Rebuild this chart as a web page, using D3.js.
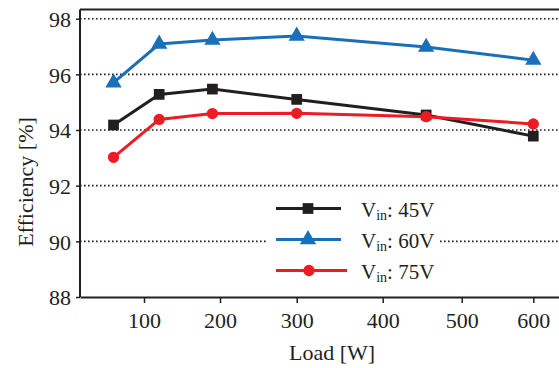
<!DOCTYPE html>
<html>
<head>
<meta charset="utf-8">
<script src="https://cdn.jsdelivr.net/npm/d3@7"></script>
<style>
body{margin:0;background:#fff;}
text{font-family:"Liberation Serif","Times New Roman",serif;fill:#231f20;}
</style>
</head>
<body>
<script>
// data
var loads = [60, 120, 190, 300, 455, 600];
var eff45 = [94.18, 95.28, 95.47, 95.10, 94.54, 93.78];
var eff60 = [95.70, 97.09, 97.23, 97.38, 96.98, 96.51];
var eff75 = [93.02, 94.38, 94.59, 94.60, 94.48, 94.22];
var xTicks = [100, 200, 300, 400, 500, 600];
var yTicks = [88, 90, 92, 94, 96, 98];
var seriesNames = ["45V", "60V", "75V"];

var W = 559, H = 368;
var svg = d3.select("body").append("svg").attr("width", W).attr("height", H);

// the original axis is not quite evenly spaced, so follow its tick marks
var x = d3.scaleLinear()
  .domain([16, 100, 200, 300, 400, 500, 600, 636])
  .range([80, 144, 220, 296.7, 382.7, 461.7, 533.3, 559]);
var y = d3.scaleLinear().domain([88, 98.33]).range([297, 9.5]);

// dotted grid
svg.append("g").selectAll("line").data(yTicks.slice(1)).enter().append("line")
  .attr("x1", 80).attr("x2", W)
  .attr("y1", function(d){return y(d);}).attr("y2", function(d){return y(d);})
  .attr("stroke", "#231f20").attr("stroke-width", 1.6)
  .attr("stroke-dasharray", "1.6,2.4");

// frame
svg.append("line").attr("x1", 80).attr("x2", W).attr("y1", y(98.33)).attr("y2", y(98.33))
  .attr("stroke", "#231f20").attr("stroke-width", 2);

var xAxis = svg.append("g").attr("transform", "translate(0," + y(88) + ")")
  .call(d3.axisBottom(x).tickValues(xTicks).tickSize(6).tickSizeOuter(0).tickFormat(d3.format("d")));
var yAxis = svg.append("g").attr("transform", "translate(80,0)")
  .call(d3.axisLeft(y).tickValues(yTicks).tickSize(4).tickSizeOuter(0));

[xAxis, yAxis].forEach(function(a){
  a.select(".domain").attr("stroke", "#231f20").attr("stroke-width", 2);
  a.selectAll(".tick line").attr("stroke", "#231f20").attr("stroke-width", 1.5);
  a.selectAll("text").attr("font-family", "Liberation Serif").attr("font-size", 22).attr("fill", "#231f20");
});
xAxis.selectAll(".tick text").attr("y", 10).attr("dy", "0.95em");
yAxis.selectAll(".tick text").attr("x", -9).attr("dy", "0.36em");
// left axis runs up to the frame
yAxis.select(".domain").attr("d", "M0," + y(88) + "V" + y(98.33));

var series = [
  {name: "45V", vals: eff45, color: "#231f20", sym: d3.symbolSquare, size: 115},
  {name: "60V", vals: eff60, color: "#1b6fb9", sym: d3.symbolTriangle, size: 115},
  {name: "75V", vals: eff75, color: "#ed1c24", sym: d3.symbolCircle, size: 100}
];

var line = d3.line().x(function(d){return x(d[0]);}).y(function(d){return y(d[1]);});

series.forEach(function(s){
  var pts = d3.zip(loads, s.vals);
  svg.append("path").datum(pts).attr("d", line)
    .attr("fill", "none").attr("stroke", s.color).attr("stroke-width", 3);
  svg.append("g").selectAll("path").data(pts).enter().append("path")
    .attr("d", d3.symbol().type(s.sym).size(s.size))
    .attr("transform", function(d){return "translate(" + x(d[0]) + "," + y(d[1]) + ")";})
    .attr("fill", s.color);
});

// legend
var lg = svg.append("g");
lg.append("rect").attr("x", 268).attr("y", 193).attr("width", 172).attr("height", 92).attr("fill", "#fff");
series.forEach(function(s, i){
  var ly = 208.5 + i * 31;
  var g = lg.append("g");
  g.append("line").attr("x1", 276).attr("x2", i == 2 ? 347 : 341).attr("y1", ly).attr("y2", ly)
    .attr("stroke", s.color).attr("stroke-width", 3);
  g.append("path").attr("d", d3.symbol().type(s.sym).size(s.size)).attr("fill", s.color)
    .attr("transform", "translate(" + (i == 2 ? 309 : 308) + "," + ly + ")");
  var t = g.append("text").attr("x", 361).attr("y", ly + 8).attr("font-size", 21);
  t.append("tspan").text("V");
  t.append("tspan").attr("font-size", 14).attr("dy", 3).text("in");
  t.append("tspan").attr("dy", -3).text(": " + seriesNames[i]);
});

// axis titles
svg.append("text").attr("x", 332).attr("y", 360).attr("text-anchor", "middle")
  .attr("font-size", 22).text("Load [W]");
svg.append("text").attr("transform", "translate(33,182) rotate(-90)").attr("text-anchor", "middle")
  .attr("font-size", 22).text("Efficiency [%]");
</script>
</body>
</html>
